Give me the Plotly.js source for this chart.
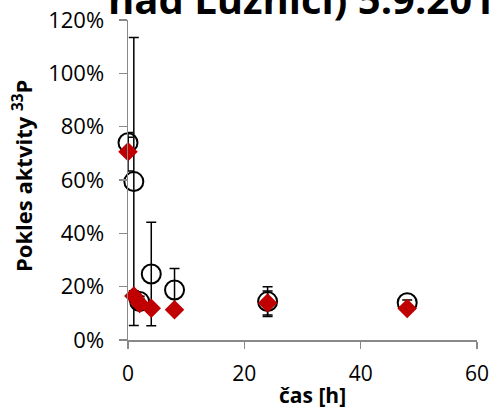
<!DOCTYPE html>
<html>
<head>
<meta charset="utf-8">
<script src="https://cdn.plot.ly/plotly-3.0.1.min.js"></script>
<style>
  html, body { margin: 0; padding: 0; background: #fff; }
  #chart { width: 492px; height: 409px; }
</style>
</head>
<body>
<div id="chart"></div>
<script>
// Sampling times [h]
const hours = [0, 1, 2, 4, 8, 24, 48];

// Open circles: decrease of 33P activity and its error
const circleValues = [0.740, 0.594, 0.144, 0.2475, 0.1875, 0.144, 0.140];
const circleErrors = [0.02, 0.540, 0.02, 0.194, 0.081, 0.056, 0.01];

// Red diamonds: decrease of 33P activity and its error
const diamondValues = [0.706, 0.165, 0.137, 0.119, 0.113, 0.139, 0.118];
const diamondErrors = [0.072, 0.02, 0.02, 0.01, 0.01, 0.045, 0.01];

const titleText = 'nad Lužnicí) 5.9.2013';
const xTitle = 'čas [h]';
const yTitle = 'Pokles aktvity <sup>33</sup>P';

const axisGrey = '#898989';
const fontFamily = '"Open Sans", "Noto Sans", sans-serif';

// plot area in pixels
const M = { l: 128, r: 15, t: 20, b: 69 };
const W = 492, H = 409;
const pw = W - M.l - M.r, ph = H - M.t - M.b;
const px = v => (v - M.l) / pw;          // page x → paper x
const py = v => (H - M.b - v) / ph;      // page y → paper y

const yRange = [0, 1.2];

const traces = [
  {
    x: hours, y: circleValues, type: 'scatter', mode: 'markers', cliponaxis: false,
    marker: { symbol: 'circle', size: 19, color: 'rgba(0,0,0,0)', line: { color: '#000', width: 2 } },
    error_y: { type: 'data', array: circleErrors, visible: true, color: '#000', thickness: 1.5, width: 5 },
    showlegend: false, hoverinfo: 'x+y'
  },
  {
    x: hours, y: diamondValues, type: 'scatter', mode: 'markers', cliponaxis: false,
    marker: { symbol: 'diamond', size: 15, color: '#C00000', line: { width: 0 } },
    error_y: { type: 'data', array: diamondErrors, visible: true, color: '#000', thickness: 1.5, width: 5 },
    showlegend: false, hoverinfo: 'x+y'
  },
  // binds the tick-mark axis so it is laid out (draws nothing itself)
  {
    x: hours, y: diamondValues, type: 'scatter', mode: 'none', yaxis: 'y2',
    showlegend: false, hoverinfo: 'skip'
  }
];

const layout = {
  width: W, height: H,
  margin: M,
  paper_bgcolor: '#fff', plot_bgcolor: '#fff',
  font: { family: fontFamily, size: 21, color: '#000' },
  xaxis: {
    range: [0, 60], dtick: 20, tick0: 0,
    showgrid: false, zeroline: false,
    showline: true, linecolor: axisGrey, linewidth: 1.5,
    ticks: 'outside', ticklen: 7, tickcolor: axisGrey, tickwidth: 1.5,
    ticklabelstandoff: 7,
    tickfont: { family: fontFamily, size: 21, color: '#000' },
    fixedrange: true
  },
  // value axis: labels set further out by a long, invisible tick
  yaxis: {
    range: yRange, dtick: 0.2, tick0: 0, tickformat: '.0%',
    showgrid: false, zeroline: false,
    showline: true, linecolor: axisGrey, linewidth: 1.5,
    ticks: 'outside', ticklen: 18, tickcolor: 'rgba(0,0,0,0)', tickwidth: 1.5,
    tickfont: { family: fontFamily, size: 22, color: '#000' },
    fixedrange: true
  },
  // same scale again, drawing only the short grey tick marks
  yaxis2: {
    overlaying: 'y', side: 'left',
    range: yRange, dtick: 0.2, tick0: 0,
    showgrid: false, zeroline: false, showline: false, showticklabels: false,
    ticks: 'outside', ticklen: 8, tickcolor: axisGrey, tickwidth: 1.5,
    fixedrange: true
  },
  annotations: [
    {
      text: titleText, showarrow: false,
      xref: 'paper', yref: 'paper',
      x: px(106), y: py(28),
      xanchor: 'left', yanchor: 'bottom',
      font: { family: fontFamily, size: 40, color: '#000', weight: 'bold' }
    },
    {
      text: xTitle, showarrow: false,
      xref: 'paper', yref: 'paper',
      x: px(312), y: py(395),
      xanchor: 'center', yanchor: 'middle',
      font: { family: fontFamily, size: 21, color: '#000', weight: 'bold' }
    },
    {
      text: yTitle, showarrow: false, textangle: -90,
      xref: 'paper', yref: 'paper',
      x: px(22), y: py(176),
      xanchor: 'center', yanchor: 'middle',
      font: { family: fontFamily, size: 22, color: '#000', weight: 'bold' }
    }
  ]
};

Plotly.newPlot('chart', traces, layout, { displayModeBar: false, staticPlot: true });
</script>
</body>
</html>
